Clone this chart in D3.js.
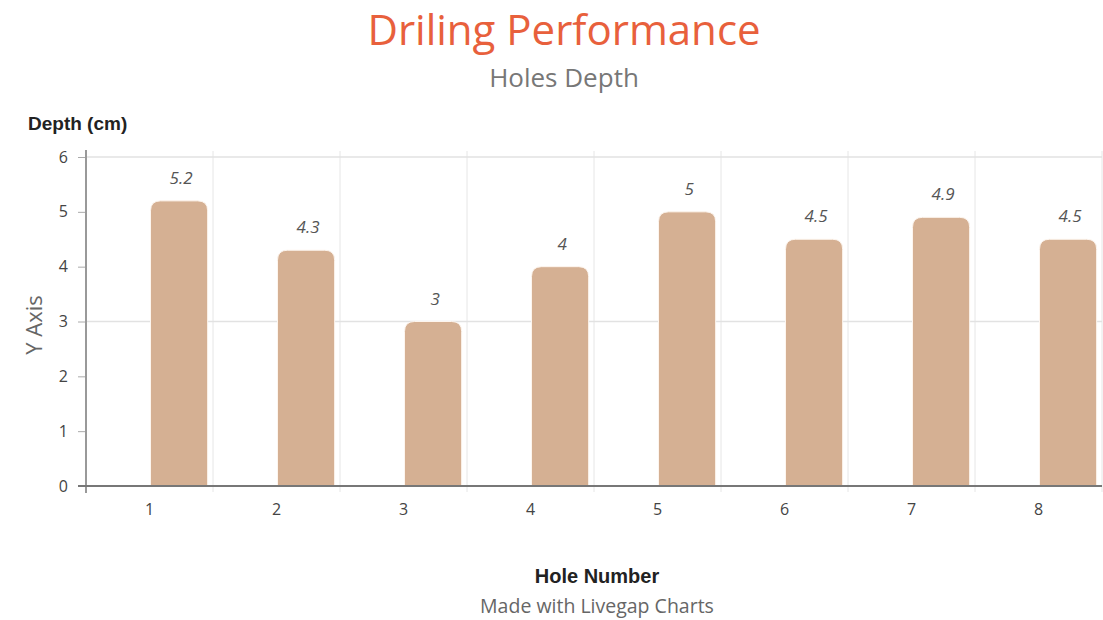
<!DOCTYPE html>
<html>
<head>
<meta charset="utf-8">
<script src="https://cdn.jsdelivr.net/npm/d3@7"></script>
<style>
  body { margin: 0; background: #fff; }
  svg { display: block; font-family: "Open Sans", sans-serif; }
</style>
</head>
<body>
<svg id="chart" width="1103" height="620"></svg>
<script>
/* chart data */
var holes = ["1", "2", "3", "4", "5", "6", "7", "8"]
var depths = [5.2, 4.3, 3, 4, 5, 4.5, 4.9, 4.5]
var yTicks = [0, 1, 2, 3, 4, 5, 6]
var yGrid = [3, 6]

var svg = d3.select("#chart")
var margin = { top: 157, right: 1, bottom: 134, left: 86 }
var width = 1103 - margin.left - margin.right
var height = 620 - margin.top - margin.bottom

var x = d3.scaleBand().domain(holes).range([0, width])
var y = d3.scaleLinear().domain([0, 6]).range([height, 0])

var g = svg.append("g")
    .attr("transform", "translate(" + margin.left + "," + margin.top + ")")

// grid lines
g.selectAll(".vgrid").data(holes).enter().append("line")
    .attr("x1", function (d) { return x(d) + x.bandwidth() })
    .attr("x2", function (d) { return x(d) + x.bandwidth() })
    .attr("y1", -6).attr("y2", height + 6)
    .attr("stroke", "#e6e6e6").attr("stroke-width", 1)
g.selectAll(".hgrid").data(yGrid).enter().append("line")
    .attr("x1", 0).attr("x2", width)
    .attr("y1", function (d) { return y(d) })
    .attr("y2", function (d) { return y(d) })
    .attr("stroke", "#e2e2e2").attr("stroke-width", 1.5)

// bars: start at band centre, rounded top corners
var barW = x.bandwidth() * 0.45
var r = 10
g.selectAll(".bar").data(depths).enter().append("path")
    .attr("fill", "#d5b093")
    .attr("stroke", "#fdf5ee").attr("stroke-width", 1)
    .attr("d", function (d, i) {
      var x0 = x(holes[i]) + x.bandwidth() / 2 + 1
      var x1 = x0 + barW
      var y0 = y(0), y1 = y(d)
      return "M" + x0 + "," + y0 + "V" + (y1 + r) +
        "Q" + x0 + "," + y1 + " " + (x0 + r) + "," + y1 +
        "H" + (x1 - r) + "Q" + x1 + "," + y1 + " " + x1 + "," + (y1 + r) +
        "V" + y0 + "Z"
    })

// value labels
g.selectAll(".val").data(depths).enter().append("text")
    .attr("x", function (d, i) { return x(holes[i]) + x.bandwidth() / 2 + 1 + barW / 2 + 2 })
    .attr("y", function (d) { return y(d) - 17 })
    .attr("text-anchor", "middle")
    .attr("font-size", 17).attr("font-style", "italic").attr("fill", "#555")
    .text(function (d) { return d })

// axes
var yAxis = d3.axisLeft(y).tickValues(yTicks).tickFormat(d3.format("d")).tickSize(8).tickPadding(10)
var gy = g.append("g").call(yAxis)
gy.select(".domain").remove()
gy.selectAll(".tick line").attr("stroke", "#aaa")
gy.selectAll(".tick text").attr("font-size", 16).attr("fill", "#444")
    .attr("font-family", "Open Sans, sans-serif")
g.append("line").attr("x1", 0).attr("x2", 0).attr("y1", -7).attr("y2", height + 7)
    .attr("stroke", "#999").attr("stroke-width", 2)

var xAxis = d3.axisBottom(x).tickSize(0).tickPadding(18)
var gx = g.append("g").attr("transform", "translate(0," + height + ")").call(xAxis)
gx.select(".domain").remove()
gx.selectAll(".tick text").attr("font-size", 16).attr("fill", "#444")
    .attr("font-family", "Open Sans, sans-serif")
g.append("line").attr("x1", -8).attr("x2", width).attr("y1", height).attr("y2", height)
    .attr("stroke", "#777").attr("stroke-width", 2)

// titles
svg.append("text").attr("x", 564).attr("y", 45).attr("text-anchor", "middle")
    .attr("font-size", 42).attr("fill", "#e8603c").text("Driling Performance")
svg.append("text").attr("x", 564).attr("y", 87).attr("text-anchor", "middle")
    .attr("font-size", 26).attr("fill", "#777").text("Holes Depth")
svg.append("text").attr("x", 28).attr("y", 130)
    .attr("font-family", "Liberation Sans Narrow, sans-serif").attr("font-weight", "bold")
    .attr("font-size", 19).attr("fill", "#222").text("Depth (cm)")
svg.append("text").attr("transform", "translate(42,325) rotate(-90)").attr("text-anchor", "middle")
    .attr("font-size", 22).attr("fill", "#666").text("Y Axis")
svg.append("text").attr("x", 597).attr("y", 583).attr("text-anchor", "middle")
    .attr("font-family", "Liberation Sans Narrow, sans-serif").attr("font-weight", "bold")
    .attr("font-size", 20).attr("fill", "#222").text("Hole Number")
svg.append("text").attr("x", 597).attr("y", 613).attr("text-anchor", "middle")
    .attr("font-size", 19.5).attr("fill", "#666").text("Made with Livegap Charts")
</script>
</body>
</html>
